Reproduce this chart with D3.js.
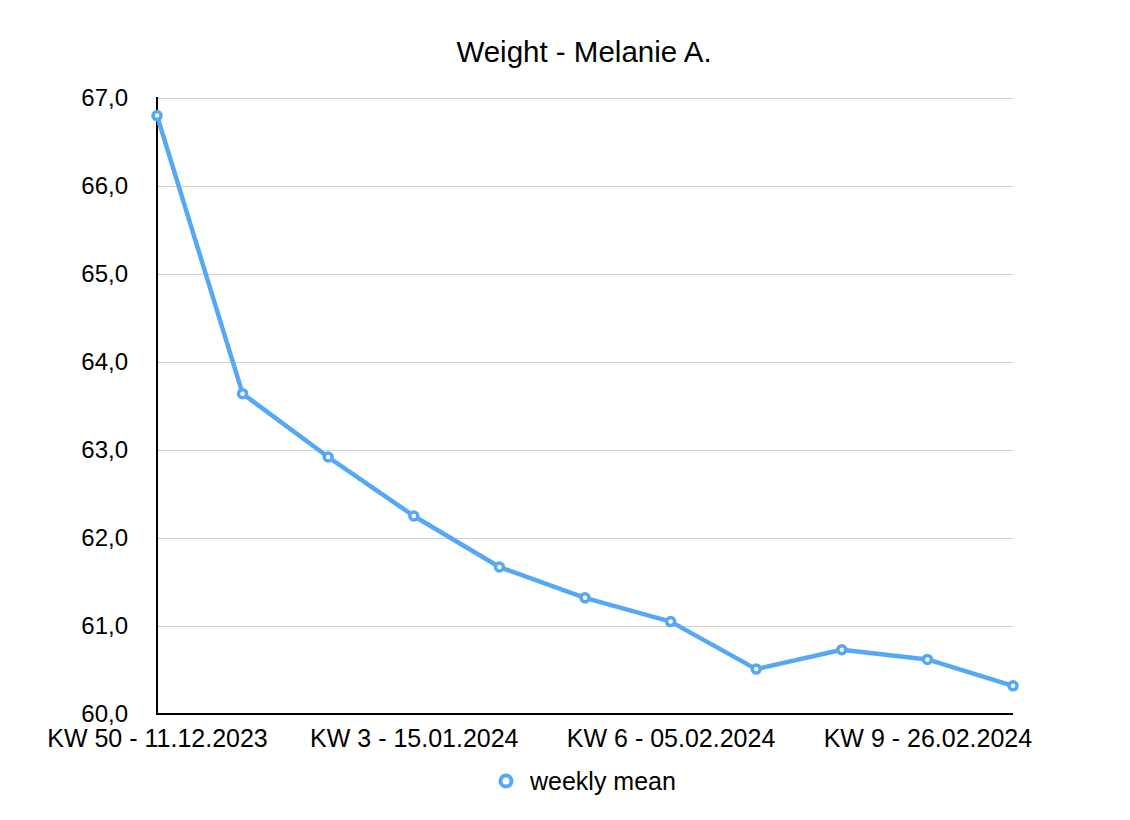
<!DOCTYPE html>
<html>
<head>
<meta charset="utf-8">
<script src="https://cdn.jsdelivr.net/npm/d3@7"></script>
<style>
  body { margin: 0; background: #fff; }
  text { font-family: "Liberation Sans", Arial, Helvetica, sans-serif; fill: #000; }
</style>
</head>
<body>
<div id="chart-area"></div>
<script>
const weeks = [
    "KW 50 - 11.12.2023", "KW 51 - 18.12.2023", "KW 2 - 08.01.2024",
    "KW 3 - 15.01.2024", "KW 4 - 22.01.2024", "KW 5 - 29.01.2024",
    "KW 6 - 05.02.2024", "KW 7 - 12.02.2024", "KW 8 - 19.02.2024",
    "KW 9 - 26.02.2024", "KW 10 - 04.03.2024"
];
const weeklyMean = [66.80, 63.64, 62.92, 62.25, 61.67, 61.32, 61.05, 60.51, 60.73, 60.62, 60.32];
const shownLabels = ["KW 50 - 11.12.2023", "KW 3 - 15.01.2024", "KW 6 - 05.02.2024", "KW 9 - 26.02.2024"];
const yTicks = [60, 61, 62, 63, 64, 65, 66, 67];

const config = {
    width: 1130,
    height: 820,
    margin: { left: 157, right: 117, top: 98, bottom: 106 }
};
config.chartWidth = config.width - config.margin.left - config.margin.right;
config.chartHeight = config.height - config.margin.top - config.margin.bottom;

const blue = "#55a8f6";

const svg = d3.select('#chart-area')
    .append('svg')
    .attr("width", config.width)
    .attr("height", config.height);

const g = svg.append('g')
    .attr("transform", `translate(${config.margin.left}, ${config.margin.top})`);

const xScale = d3.scalePoint()
    .domain(weeks)
    .range([0, config.chartWidth]);

const yScale = d3.scaleLinear()
    .domain([60, 67])
    .range([config.chartHeight, 0]);

// gridlines
const yGrid = g.append('g')
    .call(d3.axisLeft(yScale).tickValues(yTicks).tickSize(-config.chartWidth).tickFormat(""));
yGrid.select(".domain").remove();
yGrid.selectAll(".tick line").attr("stroke", "#d0d0d0").attr("stroke-width", 1);

// y labels
const yAxisGroup = g.append('g')
    .call(d3.axisLeft(yScale).tickValues(yTicks).tickSize(0).tickPadding(29)
        .tickFormat(d => d3.format(".1f")(d).replace(".", ",")));
yAxisGroup.select(".domain").remove();
yAxisGroup.selectAll("text")
    .attr("font-size", "24px")
    .attr("font-family", "'Liberation Sans', Arial, Helvetica, sans-serif")
    .attr("fill", "#000");

// x labels
const xAxisGroup = g.append('g')
    .attr('transform', `translate(0, ${config.chartHeight})`)
    .call(d3.axisBottom(xScale).tickValues(shownLabels).tickSize(0).tickPadding(15));
xAxisGroup.select(".domain").remove();
xAxisGroup.selectAll("text")
    .attr("font-size", "25px")
    .attr("font-family", "'Liberation Sans', Arial, Helvetica, sans-serif")
    .attr("fill", "#000");

// axis lines
g.append("line")
    .attr("x1", 0).attr("x2", 0)
    .attr("y1", -1).attr("y2", config.chartHeight + 1)
    .attr("stroke", "#000").attr("stroke-width", 2);
g.append("line")
    .attr("x1", 0).attr("x2", config.chartWidth)
    .attr("y1", config.chartHeight).attr("y2", config.chartHeight)
    .attr("stroke", "#000").attr("stroke-width", 2);

// line
const line = d3.line()
    .x((d, i) => xScale(weeks[i]))
    .y(d => yScale(d));

g.append("path")
    .datum(weeklyMean)
    .attr("fill", "none")
    .attr("stroke", blue)
    .attr("stroke-width", 4.5)
    .attr("stroke-linejoin", "round")
    .attr("d", line);

g.selectAll("circle.pt")
    .data(weeklyMean)
    .enter().append("circle")
    .attr("class", "pt")
    .attr("cx", (d, i) => xScale(weeks[i]))
    .attr("cy", d => yScale(d))
    .attr("r", 4)
    .attr("fill", "#fff")
    .attr("stroke", blue)
    .attr("stroke-width", 3.5);

// title
svg.append("text")
    .attr("x", 584)
    .attr("y", 62)
    .attr("text-anchor", "middle")
    .attr("font-size", "29.5px")
    .text("Weight - Melanie A.");

// legend
const legend = svg.append("g").attr("transform", "translate(506, 781)");
legend.append("circle")
    .attr("r", 5.5)
    .attr("fill", "#fff")
    .attr("stroke", blue)
    .attr("stroke-width", 4);
legend.append("text")
    .attr("x", 24)
    .attr("y", 9)
    .attr("font-size", "25px")
    .text("weekly mean");
</script>
</body>
</html>
